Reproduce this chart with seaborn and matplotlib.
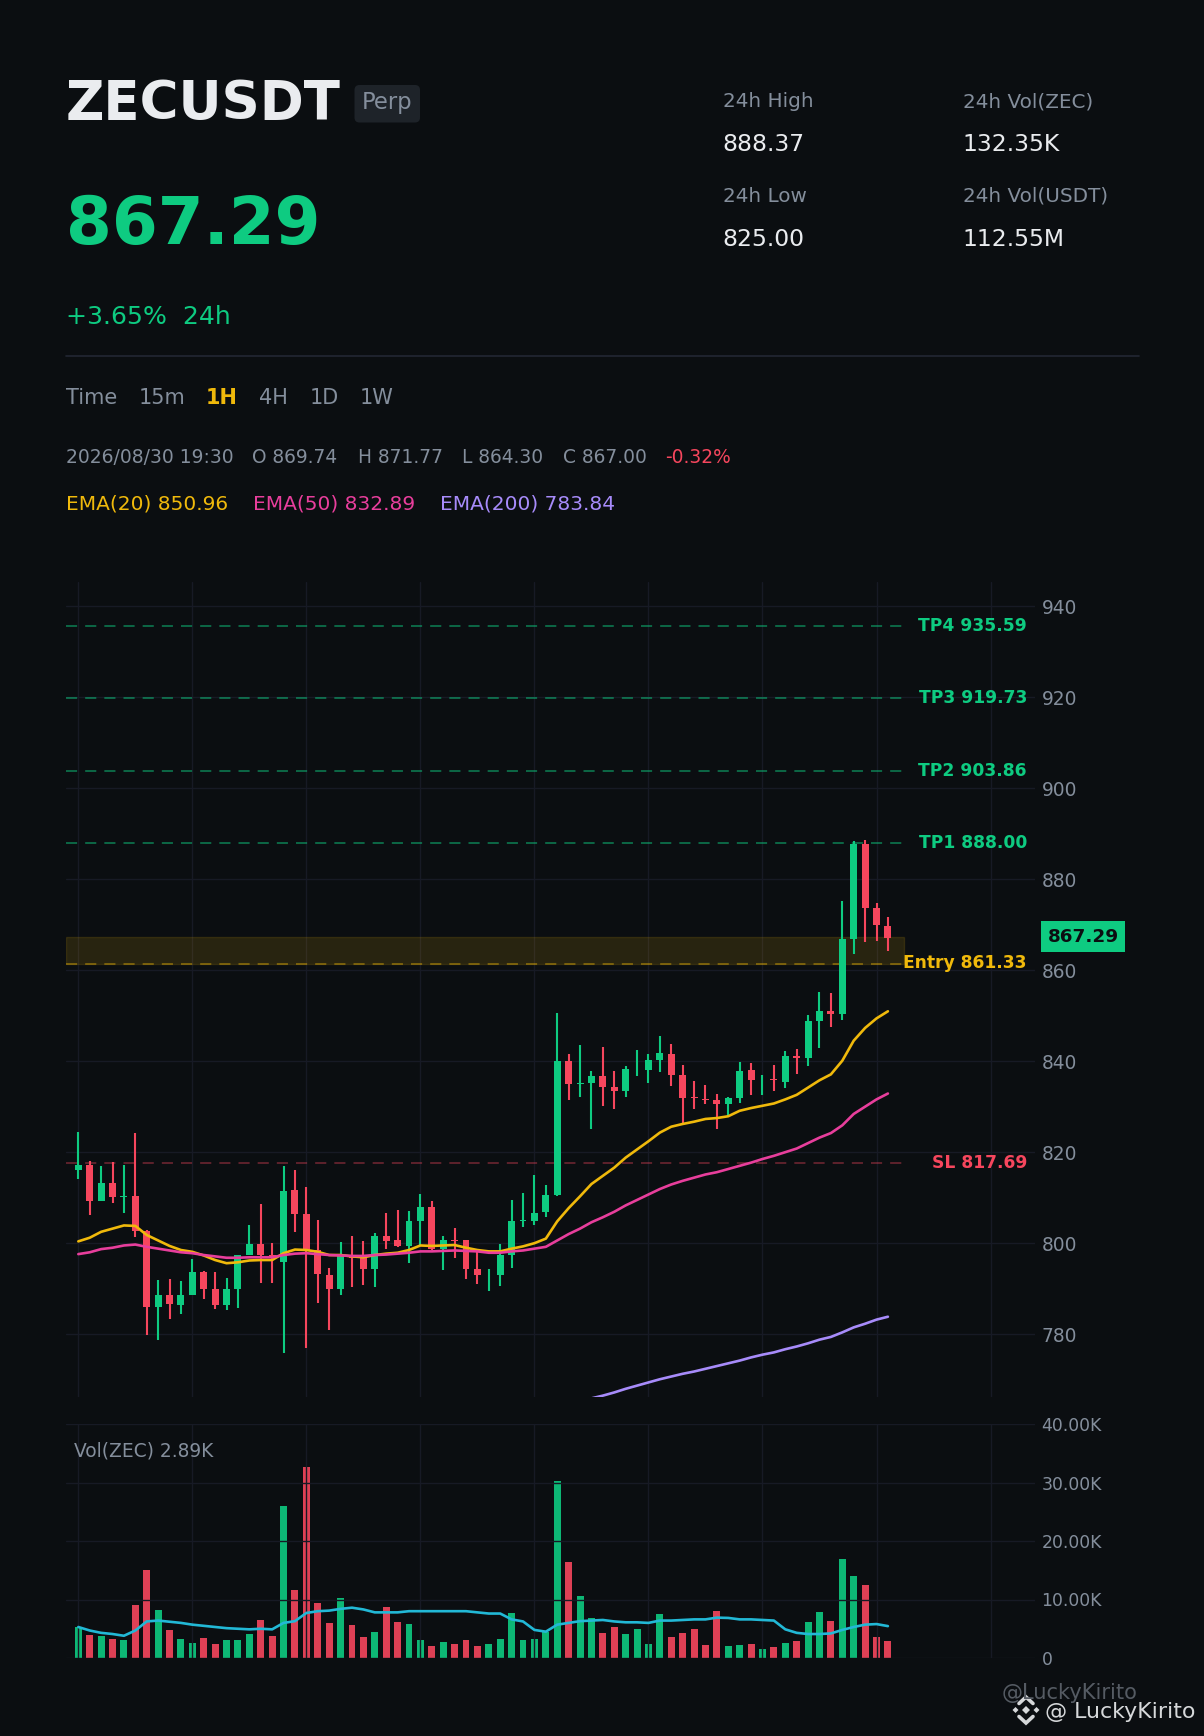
import numpy as np
import pandas as pd
import seaborn as sns
import matplotlib.pyplot as plt
from matplotlib.patches import FancyBboxPatch, Rectangle

# candles
opens = [816.1, 817.2, 809.3, 813.3, 810.2, 810.4, 802.7, 786.0, 788.6, 786.5, 788.6, 793.7,
         790.0, 786.5, 790.0, 797.4, 799.9, 797.4, 795.9, 811.7, 806.4, 798.5, 793.0, 790.0,
         797.4, 797.4, 794.4, 801.6, 800.7, 799.4, 804.9, 808.0, 798.8, 800.7, 800.7, 794.4,
         794.4, 793.0, 797.4, 804.9, 804.9, 806.9, 810.6, 840.1, 835.0, 835.2, 836.8, 834.4,
         833.5, 837.0, 838.1, 840.3, 841.6, 837.0, 832.2, 831.7, 831.5, 830.6, 831.9, 838.1,
         835.0, 836.1, 835.5, 841.2, 840.7, 848.9, 851.1, 850.4, 866.9, 887.8, 873.7, 869.74]
closes = [817.2, 809.3, 813.3, 810.2, 810.4, 802.7, 786.0, 788.6, 786.7, 788.6, 793.7, 790.0,
          786.5, 790.0, 797.4, 799.9, 797.4, 797.0, 811.5, 806.4, 798.5, 793.3, 790.0, 797.4,
          796.8, 794.4, 801.6, 800.5, 799.4, 804.9, 808.0, 798.8, 800.7, 800.5, 794.4, 793.0,
          794.4, 797.4, 804.9, 805.0, 806.7, 810.6, 840.1, 835.0, 835.2, 836.8, 834.4, 833.5,
          838.3, 837.0, 840.3, 841.8, 837.0, 831.9, 831.8, 831.5, 830.6, 831.9, 837.9, 835.9,
          835.0, 835.8, 841.2, 840.7, 848.9, 851.1, 850.4, 866.9, 887.8, 873.7, 870.0, 867.0]
highs = [824.5, 818.0, 817.0, 817.9, 817.2, 824.2, 802.9, 791.9, 792.2, 791.7, 796.6, 793.9,
         793.7, 792.4, 797.4, 804.0, 808.6, 800.1, 816.9, 816.0, 812.4, 805.1, 794.6, 800.3,
         801.6, 800.5, 802.3, 806.7, 807.3, 807.1, 810.8, 809.3, 801.6, 803.4, 800.7, 798.5,
         794.4, 799.9, 809.5, 811.1, 815.0, 812.8, 850.6, 841.6, 843.6, 837.9, 843.2, 837.9,
         839.0, 842.5, 841.6, 845.6, 843.8, 839.1, 835.7, 834.8, 832.8, 832.2, 839.9, 839.6,
         837.0, 839.2, 842.3, 842.7, 850.2, 855.2, 855.0, 875.2, 888.4, 888.6, 874.8, 871.77]
lows = [814.1, 806.2, 809.3, 808.9, 806.7, 801.4, 779.9, 778.8, 783.4, 784.5, 788.6, 787.8,
        785.6, 785.3, 785.8, 797.4, 791.3, 791.3, 775.9, 802.5, 777.0, 786.9, 781.0, 788.6,
        790.4, 790.8, 790.4, 798.8, 799.2, 795.7, 799.4, 798.5, 794.1, 796.8, 792.2, 791.1,
        789.5, 790.6, 794.6, 803.6, 804.0, 805.8, 810.4, 831.5, 832.2, 825.1, 830.2, 829.5,
        832.2, 836.8, 835.2, 837.7, 834.6, 826.0, 829.5, 830.6, 825.1, 828.0, 830.8, 832.6,
        832.6, 833.5, 834.1, 837.2, 839.0, 842.9, 847.5, 849.1, 863.6, 866.2, 866.4, 864.30]
ema20 = [800.4, 801.2, 802.5, 803.2, 803.9, 803.8, 801.8, 800.6, 799.4, 798.5, 798.1, 797.3,
         796.3, 795.6, 795.8, 796.2, 796.3, 796.3, 797.8, 798.6, 798.5, 798.1, 797.4, 797.4,
         797.1, 796.9, 797.4, 797.7, 797.9, 798.5, 799.5, 799.4, 799.5, 799.6, 799.0, 798.5,
         798.2, 798.2, 798.8, 799.3, 800.0, 801.0, 804.8, 807.7, 810.3, 813.0, 814.8, 816.6,
         818.8, 820.6, 822.4, 824.3, 825.6, 826.2, 826.7, 827.3, 827.5, 827.9, 829.1, 829.7,
         830.2, 830.7, 831.6, 832.6, 834.2, 835.8, 837.1, 840.1, 844.5, 847.3, 849.4, 850.96]
ema50 = [797.6, 798.0, 798.7, 799.0, 799.5, 799.7, 799.2, 798.8, 798.4, 798.0, 797.8, 797.4,
         797.1, 796.8, 796.8, 796.9, 796.9, 796.9, 797.4, 797.7, 797.8, 797.6, 797.4, 797.3,
         797.2, 797.2, 797.4, 797.5, 797.7, 797.9, 798.2, 798.2, 798.3, 798.4, 798.3, 798.2,
         797.9, 797.9, 798.2, 798.4, 798.8, 799.2, 800.6, 802.0, 803.2, 804.6, 805.7, 806.9,
         808.3, 809.5, 810.7, 811.9, 812.9, 813.7, 814.4, 815.1, 815.6, 816.3, 817.0, 817.7,
         818.5, 819.2, 820.0, 820.8, 822.0, 823.2, 824.2, 825.9, 828.4, 830.0, 831.6, 832.89]
# only the part of EMA(200) that falls inside the panel
ema200_start = 45
ema200 = [765.9, 766.5, 767.2, 768.0, 768.7, 769.4, 770.1, 770.7, 771.3, 771.8, 772.4, 773.0,
          773.6, 774.2, 774.9, 775.5, 776.0, 776.7, 777.3, 778.0, 778.8, 779.4, 780.4, 781.5,
          782.3, 783.2, 783.84]
volumes = [5.3, 3.9, 3.75, 3.2, 3.1, 9.0, 15.0, 8.2, 4.8, 3.2, 2.6, 3.4, 2.4, 3.1, 3.1, 4.1,
           6.5, 3.75, 26.0, 11.6, 32.7, 9.4, 6.0, 10.2, 5.6, 3.6, 4.4, 8.7, 6.1, 5.8, 3.1, 2.0,
           2.7, 2.4, 3.1, 2.0, 2.4, 3.2, 7.7, 3.1, 3.2, 4.5, 30.3, 16.4, 10.6, 6.8, 4.3, 5.3,
           4.1, 4.9, 2.4, 7.5, 3.6, 4.3, 4.9, 2.2, 8.0, 2.05, 2.2, 2.4, 1.5, 1.9, 2.6, 2.9,
           6.1, 7.8, 6.3, 16.9, 14.1, 12.4, 3.6, 2.89]
vol_ma = [5.3, 4.7, 4.3, 4.1, 3.8, 4.7, 6.25, 6.4, 6.2, 6.0, 5.7, 5.5, 5.3, 5.1, 5.0, 4.9,
          5.0, 4.9, 6.0, 6.3, 7.7, 8.0, 8.1, 8.4, 8.6, 8.3, 7.8, 7.8, 7.8, 8.0, 8.0, 8.0,
          8.0, 8.0, 8.0, 7.8, 7.6, 7.6, 6.6, 6.25, 4.8, 4.5, 5.7, 6.0, 6.3, 6.4, 6.5, 6.25,
          6.1, 6.1, 6.0, 6.4, 6.4, 6.5, 6.6, 6.6, 6.9, 6.85, 6.6, 6.6, 6.5, 6.4, 4.9, 4.3,
          4.1, 4.1, 4.2, 4.8, 5.3, 5.7, 5.8, 5.45]

levels = [("TP4", 935.59), ("TP3", 919.73), ("TP2", 903.86), ("TP1", 888.00)]
entry = 861.33
stop = 817.69
last_price = 867.29
price_ticks = [780, 800, 820, 840, 860, 880, 900, 920, 940]
vol_ticks = [0, 10, 20, 30, 40]
vol_tick_labels = ["0", "10.00K", "20.00K", "30.00K", "40.00K"]

BG = "#0b0e11"
GRID = "#171a25"
GREEN = "#0ecb81"
RED = "#f6465d"
YELLOW = "#f0b90b"
PINK = "#e83e9c"
PURPLE = "#a78bfa"
CYAN = "#22b8d6"
GREY = "#848e9c"
WHITE = "#eaecef"
W, H = 1204, 1736

sns.set_theme(style="dark", rc={"axes.facecolor": BG, "figure.facecolor": BG, "lines.scale_dashes": False,
                                "ytick.alignment": "center_baseline", "font.family": "DejaVu Sans"})

idx = np.arange(len(opens))
df = pd.DataFrame({"i": idx, "open": opens, "close": closes, "high": highs, "low": lows,
                   "ema20": ema20, "ema50": ema50, "vol": volumes, "vol_ma": vol_ma})
df["up"] = df["close"] >= df["open"]
colors = df["up"].map({True: GREEN, False: RED})


def px_axes(left, top, right, bottom):
    return fig.add_axes([left / W, 1 - bottom / H, (right - left) / W, (bottom - top) / H])


fig = plt.figure(figsize=(W / 100, H / 100), dpi=100)
ax = px_axes(66, 582, 1035, 1397)
ax_vol = px_axes(66, 1424, 1035, 1658)
xlim = (-1.08, 83.9)
level_end = 72.4
label_x = 0.9917

# price panel
ax.vlines(df["i"], df["low"], df["high"], colors=colors, linewidth=1.5, zorder=2)
ax.bar(df["i"], (df["close"] - df["open"]).abs(), bottom=df[["open", "close"]].min(axis=1),
       width=0.61, color=colors, linewidth=0, zorder=2.1)
sns.lineplot(data=df, x="i", y="ema20", ax=ax, color=YELLOW, linewidth=1.9, errorbar=None, zorder=3)
sns.lineplot(data=df, x="i", y="ema50", ax=ax, color=PINK, linewidth=1.9, errorbar=None, zorder=3)
sns.lineplot(x=idx[ema200_start:], y=ema200, ax=ax, color=PURPLE, linewidth=1.9, errorbar=None, zorder=3)

dash = (0, (8, 5.8))
for name, val in levels:
    ax.plot(xlim[0:1] + (level_end,), [val, val], color=GREEN, alpha=0.6, lw=1.1, linestyle=dash, zorder=1.5)
    ax.text(label_x, val, f"{name} {val:.2f}", transform=ax.get_yaxis_transform(), ha="right", va="center",
            color=GREEN, fontsize=12.3, fontweight="bold")
ax.plot(xlim[0:1] + (level_end,), [entry, entry], color=YELLOW, alpha=0.5, lw=1.1, linestyle=dash, zorder=1.5)
ax.plot(xlim[0:1] + (level_end,), [stop, stop], color=RED, alpha=0.45, lw=1.1, linestyle=dash, zorder=1.5)
ax.add_patch(Rectangle((xlim[0], entry), level_end - xlim[0], last_price - entry, facecolor=YELLOW, alpha=0.13,
                       edgecolor=YELLOW, linewidth=1, zorder=1.4))
ax.text(label_x, entry + 0.3, f"Entry {entry:.2f}", transform=ax.get_yaxis_transform(), ha="right", va="center",
        color=YELLOW, fontsize=12.3, fontweight="bold")
ax.text(label_x, stop, f"SL {stop:.2f}", transform=ax.get_yaxis_transform(), ha="right", va="center",
        color=RED, fontsize=12.3, fontweight="bold")

ax.set_xlim(xlim)
ax.set_ylim(766.2, 945.3)
ax.yaxis.tick_right()
ax.set_yticks(price_ticks)
ax.set_xticks(np.arange(0, 81, 10))
ax.set_xticklabels([])
ax.tick_params(axis="y", length=0, pad=4.7, labelsize=13.4, labelcolor=GREY)
ax.tick_params(axis="x", length=0)
ax.grid(True, color=GRID, linewidth=1)
ax.set_axisbelow(True)
ax.set_xlabel("")
ax.set_ylabel("")
for s in ax.spines.values():
    s.set_visible(False)

# volume panel
sns.barplot(data=df, x="i", y="vol", hue="up", palette={True: GREEN, False: RED}, dodge=False, native_scale=True,
            width=0.61, alpha=0.9, saturation=1, legend=False, ax=ax_vol, zorder=1, linewidth=0)
sns.lineplot(data=df, x="i", y="vol_ma", ax=ax_vol, color=CYAN, linewidth=1.9, errorbar=None, zorder=3)
ax_vol.set_xlim(xlim)
ax_vol.set_ylim(0, 40)
ax_vol.yaxis.tick_right()
ax_vol.set_yticks(vol_ticks)
ax_vol.set_yticklabels(vol_tick_labels)
ax_vol.set_xticks(np.arange(0, 81, 10))
ax_vol.set_xticklabels([])
ax_vol.tick_params(axis="y", length=0, pad=4.7, labelsize=12.4, labelcolor=GREY)
ax_vol.tick_params(axis="x", length=0)
ax_vol.grid(True, color=GRID, linewidth=1)
ax_vol.set_axisbelow(False)
ax_vol.set_xlabel("")
ax_vol.set_ylabel("")
for s in ax_vol.spines.values():
    s.set_visible(False)

# header and the rest, in pixel coordinates
top = fig.add_axes([0, 0, 1, 1], zorder=5)
top.set_xlim(0, W)
top.set_ylim(H, 0)
top.axis("off")
top.patch.set_alpha(0)


def put(x, y, s, color=GREY, size=14.3, weight="normal", **kw):
    top.text(x, y, s, color=color, fontsize=size, fontweight=weight, va="baseline", **kw)


put(66, 118.5, "ZECUSDT", WHITE, 38.2, "bold")
top.add_patch(FancyBboxPatch((354.5, 85), 65.5, 37.5, boxstyle="round,pad=0,rounding_size=5",
                             facecolor="#1e2329", edgecolor="none"))
put(387.3, 109, "Perp", GREY, 16.3, ha="center")
put(66, 244, "867.29", GREEN, 47.4, "bold")
put(66, 324.5, "+3.65%  24h", GREEN, 18.1)
top.plot([66, 1139], [356, 356], color="#232733", lw=1.2)

for x, lab in zip([66, 138.5, 259, 310, 360], ["Time", "15m", "4H", "1D", "1W"]):
    put(x, 404, lab, GREY, 15)
put(206, 404, "1H", YELLOW, 15, "bold")

put(66, 463, "2026/08/30 19:30", GREY, 13.5)
for x, lab in zip([252.5, 358, 462, 563], ["O 869.74", "H 871.77", "L 864.30", "C 867.00"]):
    put(x, 463, lab, GREY, 13.4)
put(665.5, 463, "-0.32%", RED, 13.4)

put(66, 510, "EMA(20) 850.96", YELLOW, 14.5)
put(253.2, 510, "EMA(50) 832.89", PINK, 14.5)
put(440.5, 510, "EMA(200) 783.84", PURPLE, 14.5)

put(722.6, 107, "24h High", GREY, 14.4)
put(722.6, 151, "888.37", WHITE, 16.9)
put(722.6, 202, "24h Low", GREY, 14.4)
put(722.6, 246, "825.00", WHITE, 16.9)
put(962.8, 107, "24h Vol(ZEC)", GREY, 14.4)
put(962.8, 151, "132.35K", WHITE, 16.9)
put(962.8, 202, "24h Vol(USDT)", GREY, 14.4)
put(962.8, 246, "112.55M", WHITE, 16.9)

# last price tag
top.add_patch(Rectangle((1041, 921), 84, 30.5, facecolor=GREEN, edgecolor="none"))
top.text(1083, 936.5, "867.29", color=BG, fontsize=13.2, fontweight="bold", ha="center", va="center")

put(74, 1456.5, "Vol(ZEC) 2.89K", GREY, 13.4)

# watermarks
put(1002, 1699, "@LuckyKirito", "#555b63", 15.15)
put(1045, 1718, "@ LuckyKirito", "#d6d8da", 15.9)
cx, cy = 1026, 1710
for dx, dy, r in [(0, 0, 4), (-10.5, 0, 3), (10.5, 0, 3)]:
    top.fill([cx + dx - r, cx + dx, cx + dx + r, cx + dx], [cy + dy, cy + dy - r, cy + dy, cy + dy + r],
             color="#d6d8da", lw=0)
top.plot([cx - 7, cx, cx + 7], [cy - 6.5, cy - 13, cy - 6.5], color="#d6d8da", lw=2.6, solid_joinstyle="miter")
top.plot([cx - 7, cx, cx + 7], [cy + 6.5, cy + 13, cy + 6.5], color="#d6d8da", lw=2.6, solid_joinstyle="miter")

fig.savefig("out.png", dpi=100, facecolor=BG)
